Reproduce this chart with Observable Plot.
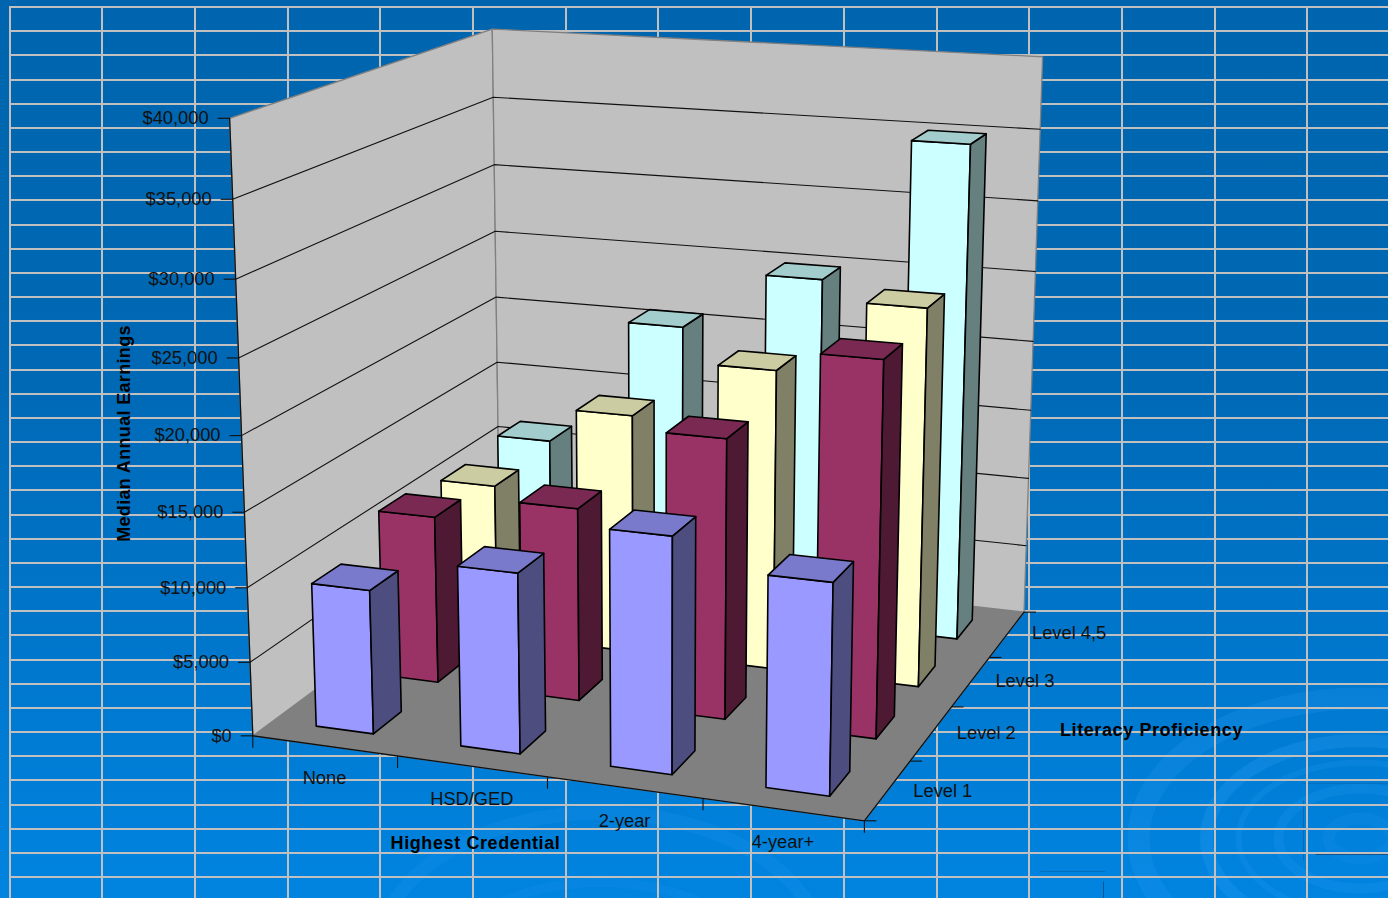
<!DOCTYPE html>
<html><head><meta charset="utf-8">
<script src="https://cdn.jsdelivr.net/npm/d3@7"></script>
<script src="https://cdn.jsdelivr.net/npm/@observablehq/plot@0.6"></script>
<style>html,body{margin:0;padding:0;overflow:hidden;background:#0074c4}svg{display:block}
.ltr text{letter-spacing:.6px}.ltr2 text{letter-spacing:.33px}</style>
</head><body><script>
const credentials = ["None","HSD/GED","2-year","4-year+"];
const levels = ["Level 1","Level 2","Level 3","Level 4,5"];
const earnL1 = [9700,12000,15500,13700];
const earnL2 = [11600,13250,18950,25000];
const earnL3 = [10900,16900,20950,26000];
const earnL45= [11450,20750,24950,35000];
const earnings=[earnL1,earnL2,earnL3,earnL45];
const yTicks=[0,5000,10000,15000,20000,25000,30000,35000,40000];
const shades={L:["#9999FF","#993366","#FFFFCC","#CCFFFF"],S:["#4D4D80","#4D1933","#808066","#668080"],T:["#7A7ACC","#7A2952","#CCCCA3","#A3CCCC"]};
const cal=[[0,0,0,253,735],[4,0,0,864,820],[4,4,0,1024,612],[0,4,0,498,553],[0,0,1,228.5,118],[0,0,1,228.5,118],[0,0,1,228.5,118],[0,4,1,493,29],[4,4,1,1042,57],
[1,0,0,398,756],[2,0,0,547,776],[3,0,0,703,798],[4,1,0,910,761],[4,2,0,950,707],[4,3,0,988,657],[0,0,.5,241,434],[0,4,.5,496,296],[4,4,.5,1033,339]];
function solve(A,b){const n=b.length;const M=A.map((r,i)=>[...r,b[i]]);for(let i=0;i<n;i++){let p=i;for(let k=i+1;k<n;k++)if(Math.abs(M[k][i])>Math.abs(M[p][i]))p=k;[M[i],M[p]]=[M[p],M[i]];for(let k=i+1;k<n;k++){const f=M[k][i]/M[i][i];for(let c=i;c<=n;c++)M[k][c]-=f*M[i][c];}}const x=Array(n);for(let i=n-1;i>=0;i--){let s=M[i][n];for(let c=i+1;c<n;c++)s-=M[i][c]*x[c];x[i]=s/M[i][i];}return x;}
const rows=[],rhs=[];
for(const [u,v,w,x,y] of cal){rows.push([u,v,w,1,0,0,0,0,-x*u,-x*v,-x*w]);rhs.push(x);rows.push([0,0,0,0,u,v,w,1,-y*u,-y*v,-y*w]);rhs.push(y);}
const N=Array.from({length:11},(_, i)=>Array.from({length:11},(_, j)=>d3.sum(rows,r=>r[i]*r[j])));
const R=Array.from({length:11},(_, i)=>d3.sum(rows,(r,k)=>r[i]*rhs[k]));
const P=solve(N,R);
const proj=(u,v,w)=>{const d=P[8]*u+P[9]*v+P[10]*w+1;return [(P[0]*u+P[1]*v+P[2]*w+P[3])/d,(P[4]*u+P[5]*v+P[6]*w+P[7])/d];};
const FU=0.40,FV=0.42;
const faces=[];
const face=(id,pts,fill)=>{for(const p of [...pts,pts[0]]){const [x,y]=proj(...p);faces.push({id,x,y,fill});}};
face("floor",[[0,0,0],[4,0,0],[4,4,0],[0,4,0]],"#808080");
face("left",[[0,0,0],[0,4,0],[0,4,1],[0,0,1]],"#C0C0C0");
face("back",[[0,4,0],[4,4,0],[4,4,1],[0,4,1]],"#C0C0C0");
const grid=[];
for(const t of yTicks.slice(1,-1)){const w=t/40000;for(const p of [[0,0,w],[0,4,w],[4,4,w]]){const [x,y]=proj(...p);grid.push({t,x,y});}}
const axisLines=[];
const seg=(a,b)=>{const id=axisLines.length;const A=proj(...a),B=proj(...b);axisLines.push({id,x:A[0],y:A[1]},{id,x:B[0],y:B[1]});};
seg([0,0,0],[0,0,1]);seg([0,0,0],[4,0,0]);seg([4,0,0],[4,4,0]);
const ticks=[];
for(const t of yTicks){const [x,y]=proj(0,0,t/40000);ticks.push({x1:x-12,x2:x,y1:y,y2:y});}
for(let i=0;i<=4;i++){const [x,y]=proj(i,0,0);ticks.push({x1:x,x2:x,y1:y,y2:y+12});}
for(let j=0;j<=4;j++){const [x,y]=proj(4,j,0);ticks.push({x1:x,x2:x+12,y1:y,y2:y});}
const bars=[];
for(let j=3;j>=0;j--)for(let i=0;i<4;i++){
 const w=earnings[j][i]/40000,u0=i+.5-FU/2,u1=i+.5+FU/2,v0=j+.5-FV/2,v1=j+.5+FV/2,id=`${j}-${i}`;
 const pts=(arr,tag,fill)=>{for(const p of [...arr,arr[0]]){const [x,y]=proj(...p);bars.push({id:id+tag,x,y,fill});}};
 pts([[u0,v0,0],[u1,v0,0],[u1,v0,w],[u0,v0,w]],"f",shades.L[j]);
 pts([[u1,v0,0],[u1,v1,0],[u1,v1,w],[u1,v0,w]],"s",shades.S[j]);
 pts([[u0,v0,w],[u1,v0,w],[u1,v1,w],[u0,v1,w]],"t",shades.T[j]);
}
const hlines=d3.range(37).map(k=>Math.round(7+24.17*k)-.5);
const vlines=d3.range(15).map(k=>Math.round(9.5+92.7*k)-.5);
const ringSpec=[[1360,838,222,140,22,.16],[1360,838,154,98,13,.2],[1360,838,122,76,6,.14],[1360,838,82,50,10,.14],[1360,838,32,20,12,.1],[600,960,225,148,14,.12],[600,960,150,78,9,.1]];
const rings=ringSpec.flatMap(([cx,cy,rx,ry,w,o],k)=>d3.range(0,361,5).map(a=>({k,w,o,x:cx+rx*Math.cos(a*Math.PI/180),y:cy+ry*Math.sin(a*Math.PI/180)})));
const scratches=[{a:1315,b:1388,c:854,d:854,o:.7},{a:1103,b:1103,c:881,d:898,o:.7},{a:1040,b:1105,c:871,d:871,o:.3},{a:1303,b:1388,c:783,d:783,o:.25},{a:1303,b:1303,c:800,d:860,o:.35}];
const yLab=yTicks.map(t=>{const [x,y]=proj(0,0,t/40000);return{t:d3.format("$,")(t),x:x-21,y};});
const cDy=[32,33,34,33];
const cLab=credentials.map((c,i)=>{const [x,y]=proj(i+.5,0,0);return{t:c,x:x,y:y+cDy[i]};});
const lDx=[55,55,54,62],lDy=[1,0,0,-1];
const lLab=levels.map((c,j)=>{const [x,y]=proj(4,j+.5,0);return{t:c,x:x+lDx[j],y:y+lDy[j]};});
const font="Liberation Sans";
const chart=Plot.plot({width:1388,height:898,margin:0,
 x:{domain:[0,1388],range:[0,1388],axis:null},y:{domain:[0,898],range:[0,898],axis:null},
 color:{type:"identity"},
 style:{background:"linear-gradient(180deg,#0065AE 0%,#0068B4 40%,#0078CE 75%,#0084E0 100%)"},
 marks:[
  ...ringSpec.map((r,k)=>Plot.line(rings.filter(d=>d.k===k),{x:"x",y:"y",stroke:"#3AA8FF",strokeWidth:r[4],strokeOpacity:r[5]})),
  Plot.link(scratches,{x1:"a",x2:"b",y1:"c",y2:"d",stroke:"#123F6E",strokeOpacity:"o",strokeWidth:1}),
  Plot.ruleY(hlines,{x1:9,x2:1388,stroke:"#C0C0C0",strokeWidth:2}),
  Plot.ruleX(vlines,{y1:6,y2:898,stroke:"#C0C0C0",strokeWidth:2}),
  Plot.line(faces,{x:"x",y:"y",z:"id",fill:"fill",stroke:"#808080",strokeWidth:1.3}),
  Plot.line(grid,{x:"x",y:"y",z:"t",stroke:"#111",strokeWidth:1.1}),
  Plot.line(axisLines,{x:"x",y:"y",z:"id",stroke:"#111",strokeWidth:1.3}),
  Plot.link(ticks,{x1:"x1",x2:"x2",y1:"y1",y2:"y2",stroke:"#111",strokeWidth:1.1}),
  Plot.line(bars,{x:"x",y:"y",z:"id",fill:"fill",stroke:"#000",strokeWidth:1.6}),
  Plot.text(yLab,{x:"x",y:"y",text:"t",textAnchor:"end",fontSize:18.3,fill:"#111",fontFamily:font}),
  Plot.text(cLab,{x:"x",y:"y",text:"t",fontSize:18.3,fill:"#111",fontFamily:font}),
  Plot.text(lLab,{x:"x",y:"y",text:"t",fontSize:18.3,fill:"#111",fontFamily:font}),
  Plot.text(["Highest Credential"],{x:475,y:843,fontSize:18,fontWeight:"bold",fill:"#000",fontFamily:font,className:"ltr"}),
  Plot.text(["Literacy Proficiency"],{x:1151,y:730,fontSize:18,fontWeight:"bold",fill:"#000",fontFamily:font,className:"ltr"}),
  Plot.text(["Median Annual Earnings"],{x:124,y:433,rotate:-90,fontSize:18,fontWeight:"bold",fill:"#000",fontFamily:font,className:"ltr2"})
 ]});
document.body.appendChild(chart);
</script></body></html>
